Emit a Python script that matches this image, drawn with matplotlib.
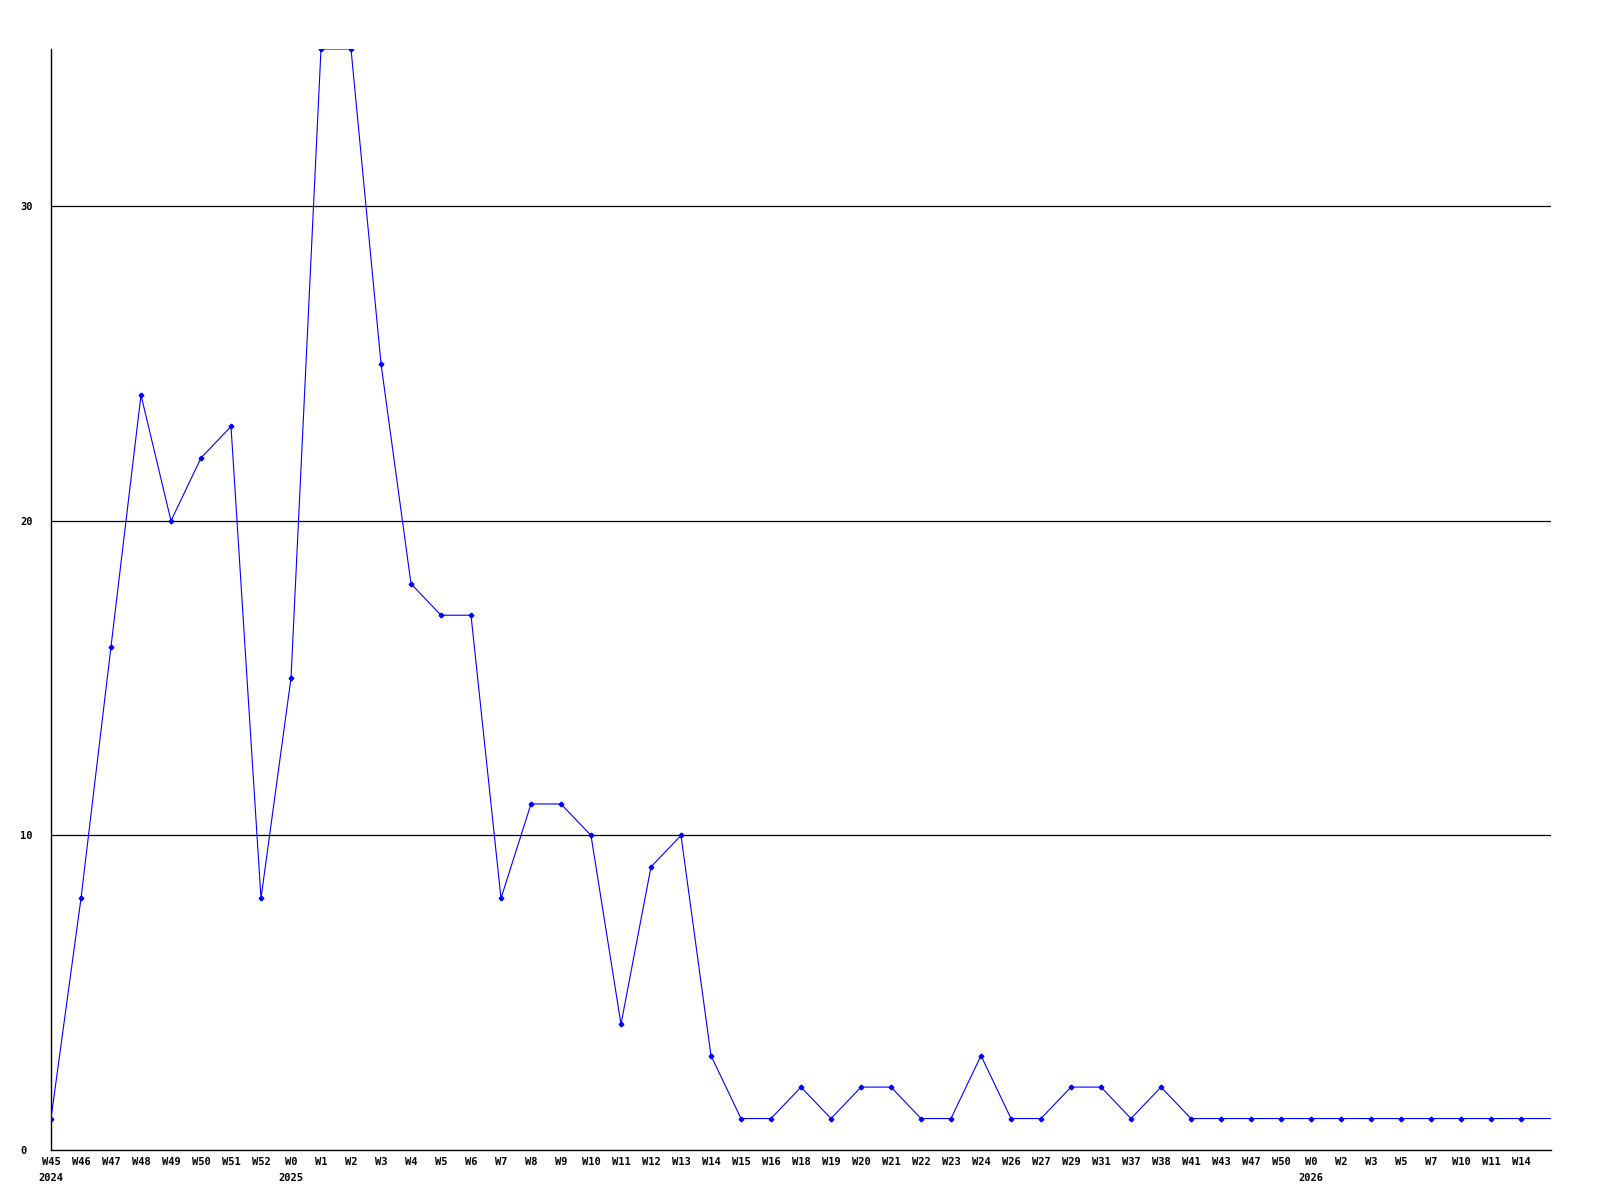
import matplotlib
matplotlib.use("Agg")
import matplotlib.pyplot as plt
from matplotlib.transforms import offset_copy

weeks = ["W45", "W46", "W47", "W48", "W49", "W50", "W51", "W52",
         "W0", "W1", "W2", "W3", "W4", "W5", "W6", "W7", "W8", "W9", "W10",
         "W11", "W12", "W13", "W14", "W15", "W16", "W18", "W19", "W20", "W21",
         "W22", "W23", "W24", "W26", "W27", "W29", "W31", "W37", "W38", "W41",
         "W43", "W47", "W50", "W0", "W2", "W3", "W5", "W7", "W10", "W11", "W14", ""]
values = [1, 8, 16, 24, 20, 22, 23, 8,
          15, 35, 35, 25, 18, 17, 17, 8, 11, 11, 10,
          4, 9, 10, 3, 1, 1, 2, 1, 2, 2,
          1, 1, 3, 1, 1, 2, 2, 1, 2, 1,
          1, 1, 1, 1, 1, 1, 1, 1, 1, 1, 1, 1]
year_labels = {0: "2024", 8: "2025", 42: "2026"}
y_ticks = [0, 10, 20, 30]

FONT = "DejaVu Sans Mono"
FS = 7.5

fig = plt.figure(figsize=(16, 12), dpi=100)
ax = fig.add_axes([51 / 1600, 50 / 1200, 1500 / 1600, 1101 / 1200])

x = list(range(len(values)))
ax.plot(x, values, color="#0000ff", linewidth=0.8, marker="P", markersize=3,
        markevery=slice(0, len(values) - 1), zorder=3)

ax.set_xlim(0, len(values) - 1)
ax.set_ylim(0, max(values))

for yv in y_ticks[1:]:
    ax.axhline(yv, color="black", linewidth=0.9, zorder=1)

ax.spines["top"].set_visible(False)
ax.spines["right"].set_visible(False)
ax.spines["left"].set_linewidth(1.0)
ax.spines["bottom"].set_linewidth(1.0)

ax.set_yticks(y_ticks)
ax.set_yticklabels([str(v) for v in y_ticks], fontfamily=FONT, fontweight="bold", fontsize=FS)
ax.tick_params(axis="y", length=0, pad=22)
for lab in ax.get_yticklabels():
    lab.set_horizontalalignment("left")

ax.set_xticks(x[:len(weeks)])
ax.set_xticklabels(weeks, fontfamily=FONT, fontweight="bold", fontsize=FS)
ax.tick_params(axis="x", length=0, pad=5)

trans = ax.get_xaxis_transform()
t = offset_copy(trans, fig=fig, x=0, y=-16.5, units="points")
for idx, yr in year_labels.items():
    ax.text(idx, 0, yr, transform=t, ha="center", va="top",
            fontfamily=FONT, fontweight="bold", fontsize=FS)

fig.savefig("out.png", dpi=100)
